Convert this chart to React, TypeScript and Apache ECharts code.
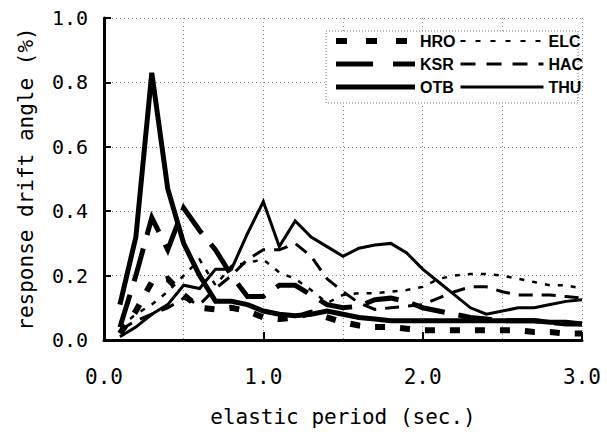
import React, { useEffect, useRef } from "react";
import * as echarts from "echarts";

const periods = [0.1, 0.2, 0.3, 0.4, 0.5, 0.6, 0.7, 0.8, 0.9, 1.0, 1.1, 1.2, 1.3, 1.4, 1.5, 1.6, 1.7, 1.8, 1.9, 2.0, 2.1, 2.2, 2.3, 2.4, 2.5, 2.6, 2.7, 2.8, 2.9, 3.0];

const hro = [0.02, 0.09, 0.18, 0.19, 0.14, 0.10, 0.095, 0.10, 0.09, 0.07, 0.065, 0.07, 0.085, 0.07, 0.055, 0.045, 0.04, 0.04, 0.035, 0.03, 0.03, 0.03, 0.03, 0.03, 0.03, 0.03, 0.025, 0.025, 0.02, 0.02];
const elc = [0.04, 0.08, 0.11, 0.15, 0.20, 0.25, 0.17, 0.23, 0.24, 0.25, 0.21, 0.19, 0.155, 0.115, 0.14, 0.145, 0.145, 0.15, 0.155, 0.165, 0.19, 0.20, 0.205, 0.205, 0.20, 0.19, 0.18, 0.17, 0.17, 0.16];
const ksr = [0.04, 0.2, 0.38, 0.28, 0.41, 0.34, 0.28, 0.20, 0.135, 0.135, 0.17, 0.17, 0.14, 0.11, 0.10, 0.105, 0.125, 0.13, 0.12, 0.10, 0.09, 0.08, 0.07, 0.065, 0.06, 0.06, 0.06, 0.055, 0.05, 0.05];
const hac = [0.03, 0.06, 0.08, 0.10, 0.13, 0.11, 0.16, 0.20, 0.25, 0.28, 0.28, 0.30, 0.26, 0.19, 0.15, 0.115, 0.095, 0.10, 0.105, 0.11, 0.13, 0.15, 0.165, 0.165, 0.15, 0.14, 0.14, 0.14, 0.135, 0.13];
const otb = [0.11, 0.32, 0.83, 0.47, 0.30, 0.20, 0.12, 0.12, 0.11, 0.09, 0.08, 0.075, 0.08, 0.09, 0.08, 0.07, 0.065, 0.06, 0.06, 0.06, 0.06, 0.06, 0.06, 0.06, 0.06, 0.06, 0.06, 0.055, 0.055, 0.05];
const thu = [0.01, 0.04, 0.08, 0.11, 0.17, 0.16, 0.22, 0.22, 0.33, 0.43, 0.29, 0.37, 0.32, 0.29, 0.26, 0.285, 0.295, 0.30, 0.27, 0.22, 0.18, 0.14, 0.10, 0.08, 0.09, 0.10, 0.10, 0.11, 0.12, 0.125];

const leftNames = ["HRO", "KSR", "OTB"];
const rightNames = ["ELC", "HAC", "THU"];

const xAxisTitle = "elastic period (sec.)";
const yAxisTitle = "response drift angle (%)";

const MONO = '"DejaVu Sans Mono", "Liberation Mono", monospace';
const LEGEND_FONT = '"Liberation Sans", Arial, sans-serif';

const styles: Record<string, { width: number; type: any }> = {
  HRO: { width: 6, type: [10, 15] },
  ELC: { width: 2.5, type: [5, 8] },
  KSR: { width: 5, type: [34, 14] },
  HAC: { width: 3, type: [14, 9] },
  OTB: { width: 5, type: "solid" },
  THU: { width: 3, type: "solid" },
};

const legendStyles: Record<string, { width: number; type: any }> = {
  HRO: { width: 6, type: [11, 19] },
  ELC: { width: 2, type: [5, 10] },
  KSR: { width: 5, type: [37, 20] },
  HAC: { width: 3, type: [15, 11] },
  OTB: { width: 5, type: "solid" },
  THU: { width: 3, type: "solid" },
};

const seriesData: Record<string, number[]> = { HRO: hro, ELC: elc, KSR: ksr, HAC: hac, OTB: otb, THU: thu };

export default function App() {
  const ref = useRef<HTMLDivElement>(null);
  useEffect(() => {
    if (!ref.current) return;
    const chart = echarts.init(ref.current, null, { renderer: "svg" });
    const names = ["HRO", "ELC", "KSR", "HAC", "OTB", "THU"];
    const mkLegend = (list: string[], left: number, itemWidth: number) => ({
      orient: "vertical",
      left,
      top: 32,
      itemWidth,
      itemHeight: 14,
      itemGap: 5,
      padding: 0,
      selectedMode: false,
      itemStyle: { color: "rgba(0,0,0,0)", borderWidth: 0, opacity: 0 },
      textStyle: { fontFamily: LEGEND_FONT, fontWeight: "bold", fontSize: 16, lineHeight: 18, color: "#000" },
      data: list.map((n) => ({
        name: n,
        lineStyle: { color: "#000", width: legendStyles[n].width, type: legendStyles[n].type, cap: "butt" },
      })),
    });
    chart.setOption({
      animation: false,
      backgroundColor: "#fff",
      grid: { left: 104, right: 25, top: 18, bottom: 90 },
      graphic: [
        {
          type: "rect",
          z: 3,
          shape: { x: 326, y: 31, width: 252, height: 72 },
          style: { fill: "#fff", stroke: "#777", lineWidth: 1, lineDash: [1, 2] },
        },
      ],
      legend: [mkLegend(leftNames, 333, 79), mkLegend(rightNames, 459, 83)],
      xAxis: {
        type: "value",
        min: 0,
        max: 3,
        interval: 1,
        name: xAxisTitle,
        nameLocation: "middle",
        nameGap: 66,
        nameTextStyle: { fontFamily: MONO, fontSize: 21, color: "#000" },
        axisLine: { show: true, onZero: false, lineStyle: { color: "#000", width: 3 } },
        axisTick: { show: true, inside: true, length: 8, lineStyle: { color: "#000", width: 2 } },
        axisLabel: { margin: 26, fontFamily: MONO, fontSize: 21, color: "#000", formatter: (v: number) => v.toFixed(1) },
        splitLine: { show: true, lineStyle: { color: "#888", width: 1, type: [1, 3] } },
        minorTick: { show: false, splitNumber: 2 },
        minorSplitLine: { show: true, lineStyle: { color: "#888", width: 1, type: [1, 3] } },
      },
      yAxis: {
        type: "value",
        min: 0,
        max: 1,
        interval: 0.2,
        name: yAxisTitle,
        nameLocation: "middle",
        nameGap: 68,
        nameTextStyle: { fontFamily: MONO, fontSize: 21, color: "#000" },
        axisLine: { show: true, onZero: false, lineStyle: { color: "#000", width: 3 } },
        axisTick: { show: true, inside: true, length: 7, lineStyle: { color: "#000", width: 2 } },
        axisLabel: { margin: 16, fontFamily: MONO, fontSize: 20, color: "#000", formatter: (v: number) => v.toFixed(1) },
        splitLine: { show: true, lineStyle: { color: "#888", width: 1, type: [1, 3] } },
      },
      series: names.map((n) => ({
        name: n,
        type: "line",
        symbol: "none",
        z: 2,
        itemStyle: { color: "rgba(0,0,0,0)" },
        lineStyle: { color: "#000", width: styles[n].width, type: styles[n].type, cap: "butt", join: "miter" },
        data: periods.map((p, i) => [p, seriesData[n][i]]),
      })),
    });
    return () => chart.dispose();
  }, []);
  return <div ref={ref} style={{ position: "fixed", left: 0, top: 0, width: 607, height: 432 }} />;
}
